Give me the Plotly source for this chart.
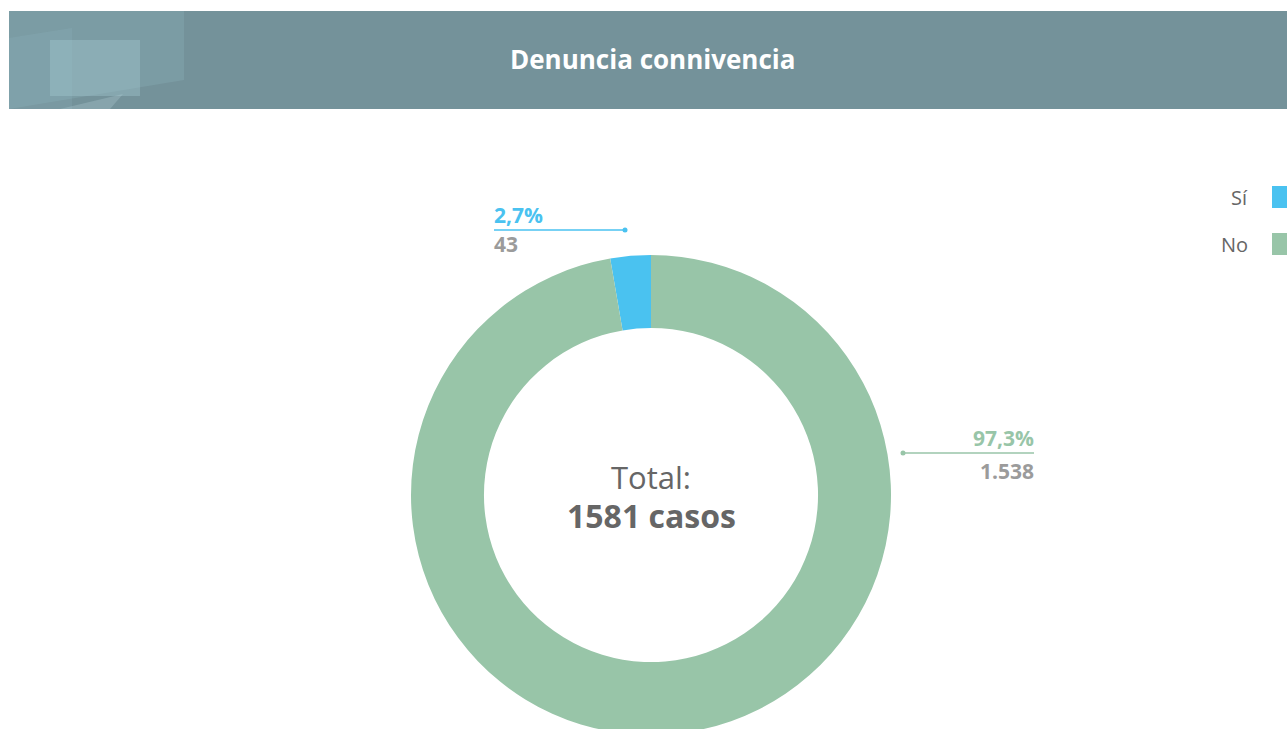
import plotly.graph_objects as go

# ---- data ----
categories = ["Sí", "No"]
values = [43, 1538]
percent_labels = ["2,7%", "97,3%"]
count_labels = ["43", "1.538"]
colors = ["#4ac2f0", "#98c5a8"]
title_text = "Denuncia connivencia"
total_prefix = "Total:"
total_suffix = "casos"

W, H = 1287, 745
FONT = "Open Sans"

def px(x):
    return x / W

def py(y):
    return 1 - y / H

total = sum(values)
# first slice ends at 12 o'clock, drawn on its left side
start_rotation = -360.0 * values[0] / total

fig = go.Figure()

fig.add_trace(go.Pie(
    labels=categories,
    values=values,
    hole=0.696,
    sort=False,
    direction="clockwise",
    rotation=start_rotation,
    marker=dict(colors=colors, line=dict(width=0)),
    textinfo="none",
    showlegend=False,
    domain=dict(x=[px(411), px(891)], y=[py(735), py(255)]),
))

shapes = []
annotations = []

# header bar
shapes.append(dict(type="rect", xref="paper", yref="paper",
                   x0=px(9), x1=px(1287), y0=py(109), y1=py(11),
                   fillcolor="#74929a", line=dict(width=0), layer="below"))
# header decoration
shapes.append(dict(type="path", xref="paper", yref="paper",
                   path=f"M {px(9)},{py(11)} L {px(184)},{py(11)} L {px(184)},{py(80)} L {px(9)},{py(109)} Z",
                   fillcolor="rgba(150,190,200,0.22)", line=dict(width=0)))
shapes.append(dict(type="path", xref="paper", yref="paper",
                   path=f"M {px(9)},{py(38)} L {px(72)},{py(28)} L {px(72)},{py(109)} L {px(9)},{py(109)} Z",
                   fillcolor="rgba(150,190,200,0.18)", line=dict(width=0)))
shapes.append(dict(type="rect", xref="paper", yref="paper",
                   x0=px(50), x1=px(140), y0=py(96), y1=py(40),
                   fillcolor="rgba(170,205,215,0.35)", line=dict(width=0)))
shapes.append(dict(type="path", xref="paper", yref="paper",
                   path=f"M {px(60)},{py(109)} L {px(123)},{py(94)} L {px(110)},{py(109)} Z",
                   fillcolor="rgba(190,220,228,0.25)", line=dict(width=0)))

annotations.append(dict(text=f"<b>{title_text}</b>", x=px(652), y=py(59),
                        xref="paper", yref="paper", showarrow=False,
                        font=dict(family=FONT, size=26, color="white"),
                        xanchor="center", yanchor="middle"))

# center total
annotations.append(dict(text=total_prefix, x=px(651), y=py(477),
                        xref="paper", yref="paper", showarrow=False,
                        font=dict(family=FONT, size=31, color="#666666"),
                        xanchor="center", yanchor="middle"))
annotations.append(dict(text=f"<b>{total} {total_suffix}</b>", x=px(651), y=py(515),
                        xref="paper", yref="paper", showarrow=False,
                        font=dict(family=FONT, size=32, color="#666666"),
                        xanchor="center", yanchor="middle"))

# data labels with leader lines
label_layout = [
    dict(tx=492, anchor="left", lx0=494, lx1=625, dot=625, ly=230, py_=215, cy=244),
    dict(tx=1036, anchor="right", lx0=903, lx1=1034, dot=903, ly=453, py_=438, cy=471),
]
for i, lay in enumerate(label_layout):
    shapes.append(dict(type="line", xref="paper", yref="paper",
                       x0=px(lay["lx0"]), x1=px(lay["lx1"]), y0=py(lay["ly"]), y1=py(lay["ly"]),
                       line=dict(color=colors[i], width=1.3)))
    shapes.append(dict(type="circle", xref="paper", yref="paper",
                       x0=px(lay["dot"] - 2.5), x1=px(lay["dot"] + 2.5),
                       y0=py(lay["ly"] + 2.5), y1=py(lay["ly"] - 2.5),
                       fillcolor=colors[i], line=dict(width=0)))
    annotations.append(dict(text=f"<b>{percent_labels[i]}</b>", x=px(lay["tx"]), y=py(lay["py_"]),
                            xref="paper", yref="paper", showarrow=False,
                            font=dict(family=FONT, size=21, color=colors[i]),
                            xanchor=lay["anchor"], yanchor="middle"))
    annotations.append(dict(text=f"<b>{count_labels[i]}</b>", x=px(lay["tx"]), y=py(lay["cy"]),
                            xref="paper", yref="paper", showarrow=False,
                            font=dict(family=FONT, size=21, color="#9b9b9b"),
                            xanchor=lay["anchor"], yanchor="middle"))

# legend (text left of square)
legend_y = [197, 244]
for i, cat in enumerate(categories):
    annotations.append(dict(text=cat, x=px(1250), y=py(legend_y[i]),
                            xref="paper", yref="paper", showarrow=False,
                            font=dict(family=FONT, size=20, color="#666666"),
                            xanchor="right", yanchor="middle"))
    shapes.append(dict(type="rect", xref="paper", yref="paper",
                       x0=px(1272), x1=px(1295), y0=py(legend_y[i] + 11), y1=py(legend_y[i] - 11),
                       fillcolor=colors[i], line=dict(width=0)))

fig.update_layout(
    width=W, height=H,
    margin=dict(l=0, r=0, t=0, b=0),
    paper_bgcolor="white",
    plot_bgcolor="white",
    shapes=shapes,
    annotations=annotations,
    font=dict(family=FONT),
)

fig.write_html("out.html",
               config={"displayModeBar": False},
               post_script="document.body.style.margin='0';document.body.style.overflow='hidden';")
